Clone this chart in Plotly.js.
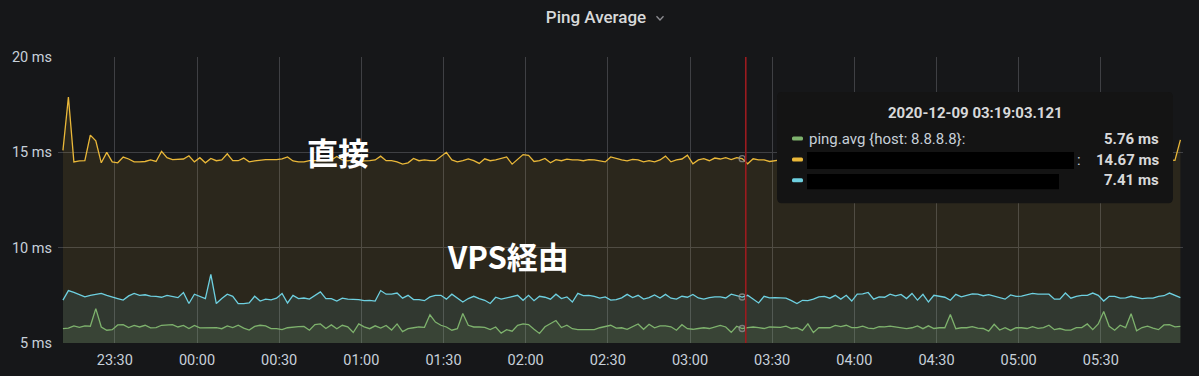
<!DOCTYPE html>
<html><head><meta charset="utf-8">
<script src="https://cdn.plot.ly/plotly-3.0.1.min.js"></script>
<style>html,body{margin:0;padding:0;background:#161719;}#chart{width:1199px;height:376px;}</style>
</head><body><div id="chart"></div>
<script>
// ---- data (ms), one sample every 2 minutes starting 2020-12-08 23:11:03.121 ----
const startTime = Date.UTC(2020, 11, 8, 23, 11, 3, 121);
const stepMinutes = 2;

const directValues = [ // yellow: 直接
15.1,17.9,14.5,14.55,14.56,15.9,15.6,14.45,15.0,14.5,14.45,
14.75,14.65,14.5,14.5,14.52,14.6,14.52,15.05,14.72,14.62,
14.65,14.65,14.82,14.5,14.72,14.45,14.68,14.56,14.6,14.92,
14.56,14.56,14.7,14.5,14.55,14.6,14.62,14.62,14.62,14.66,
14.76,14.55,14.5,14.5,14.56,14.56,14.58,14.56,14.6,14.78,
14.6,14.55,14.6,14.5,14.55,14.56,14.6,14.8,14.56,14.56,
14.5,14.38,14.45,14.68,14.56,14.6,14.56,14.56,14.76,15.0,
14.6,14.5,14.56,14.66,14.56,14.42,14.66,14.56,14.6,14.68,
14.76,14.38,14.62,14.88,14.84,14.52,14.56,14.68,14.45,14.62,
14.56,14.64,14.6,14.6,14.56,14.62,14.6,14.56,14.5,14.76,
14.66,14.6,14.55,14.63,14.6,14.5,14.56,14.5,14.6,14.8,
14.5,14.6,14.65,14.85,14.4,14.6,14.67,14.56,14.7,14.65,
14.72,14.62,14.72,14.67,14.4,14.66,14.6,14.6,14.52,14.55,
14.6,14.56,14.7,14.5,14.62,14.58,14.66,14.52,14.6,14.72,
14.55,14.6,14.64,14.5,14.58,14.7,14.62,14.55,14.6,14.68,
14.52,14.6,14.57,14.65,14.6,14.5,14.62,14.7,14.56,14.6,
14.64,14.55,14.6,14.72,14.58,14.5,14.6,14.66,14.56,14.62,
14.6,14.52,14.68,14.6,14.55,14.64,14.6,14.5,14.7,14.58,
14.6,14.56,14.66,14.6,14.52,14.62,14.58,14.7,14.6,14.55,
14.62,14.6,14.5,14.66,14.58,14.6,14.64,14.55,14.6,14.68,
14.56,14.6,14.58,15.65];

const vpsValues = [ // cyan: VPS経由
7.25,7.75,7.66,7.52,7.42,7.5,7.56,7.6,7.5,7.4,7.33,
7.25,7.47,7.6,7.5,7.53,7.46,7.45,7.4,7.5,7.45,
7.38,7.65,7.07,7.56,7.45,7.33,8.6,7.07,7.33,7.56,
7.45,7.07,7.07,7.1,7.45,7.2,7.3,7.26,7.35,7.6,
7.1,7.5,7.33,7.36,7.3,7.5,7.68,7.33,7.33,7.2,
7.35,7.3,7.28,7.28,7.22,7.24,7.2,7.75,7.56,7.56,
7.62,7.35,7.5,7.28,7.28,7.22,7.42,7.5,7.5,7.3,
7.56,7.33,7.15,7.33,7.45,7.33,7.24,7.07,7.4,7.3,
7.36,7.42,7.5,7.24,7.5,7.22,7.45,7.4,7.3,7.56,
7.33,7.42,7.15,7.6,7.48,7.5,7.45,7.35,7.42,7.25,
7.28,7.37,7.55,7.38,7.5,7.3,7.38,7.52,7.36,7.55,
7.35,7.3,7.45,7.4,7.55,7.36,7.3,7.38,7.42,7.42,
7.36,7.56,7.5,7.41,7.5,7.3,7.1,7.45,7.37,7.38,
7.38,7.35,7.22,7.07,7.24,7.22,7.3,7.42,7.45,7.35,
7.5,7.3,7.5,7.2,7.56,7.58,7.65,7.3,7.42,7.4,
7.56,7.47,7.55,7.33,7.6,7.25,7.55,7.15,7.5,7.43,
7.4,7.24,7.55,7.42,7.5,7.58,7.56,7.48,7.54,7.45,
7.38,7.3,7.52,7.45,7.46,7.55,7.6,7.56,7.56,7.56,
7.3,7.3,7.62,7.35,7.45,7.5,7.5,7.62,7.5,7.2,
7.45,7.45,7.35,7.37,7.45,7.38,7.33,7.35,7.35,7.45,
7.48,7.62,7.5,7.38];

const googleValues = [ // green: ping.avg {host: 8.8.8.8}
5.75,5.78,5.9,5.82,5.9,5.88,6.8,5.84,5.67,5.7,5.95,
5.96,5.81,5.92,5.84,5.93,5.79,5.81,5.93,5.94,5.96,
5.84,5.92,5.76,5.92,5.79,5.8,5.8,5.81,5.75,5.9,
5.81,5.93,5.78,5.68,5.87,5.93,5.9,5.75,5.75,5.7,
5.8,5.84,5.86,5.87,5.67,5.97,6.0,5.76,5.95,5.75,
5.93,5.85,5.55,6.0,5.85,5.75,5.9,5.78,5.92,5.68,
6.0,5.6,5.75,5.8,5.84,5.82,6.48,6.1,5.93,5.84,
5.67,5.75,6.55,5.93,5.84,5.84,5.82,5.7,5.84,5.52,
5.7,5.62,5.93,6.0,5.97,5.72,5.5,5.85,6.0,6.18,
5.81,5.93,5.75,5.7,5.7,5.7,5.7,5.8,5.88,5.93,
5.78,5.8,5.72,5.85,6.0,5.72,5.98,5.8,5.9,5.9,
5.85,5.67,5.96,5.75,5.72,5.76,5.8,5.76,5.85,5.92,
5.84,5.56,5.88,5.76,5.81,5.84,5.81,5.76,5.84,5.83,
5.82,5.88,5.76,5.8,5.66,6.0,5.55,5.81,5.79,5.8,
5.92,5.86,5.93,5.81,5.81,5.88,5.78,5.75,5.86,5.85,
5.88,5.84,5.8,5.75,5.8,5.9,5.75,5.9,5.76,5.8,
5.8,6.5,5.75,5.8,5.8,5.86,5.78,5.76,5.62,5.98,
5.68,5.8,5.66,5.8,5.8,5.76,5.86,5.77,5.81,5.93,
5.7,5.76,5.68,5.68,5.81,5.81,6.0,5.7,6.0,6.65,
5.88,5.67,5.93,5.81,6.54,5.64,5.81,5.88,5.78,5.7,
5.95,5.96,5.85,5.87];

const yTickVals = [5, 10, 15, 20];
const yTickText = ['5 ms', '10 ms', '15 ms', '20 ms'];
const xRange = ['2020-12-08 23:09:15', '2020-12-09 06:00:00'];
const hoverIndex = 124;
const crosshairTime = '2020-12-09 03:20:22';
const seriesLabels = ['ping.avg {host: 8.8.8.8}:', '', ''];
const labelDirect = '直接';
const labelVps = 'VPS経由';

// ---- helpers ----
function pad(n, w) { return String(n).padStart(w || 2, '0'); }
function fmt(ms) {
  const d = new Date(ms);
  return d.getUTCFullYear() + '-' + pad(d.getUTCMonth() + 1) + '-' + pad(d.getUTCDate()) + ' ' +
    pad(d.getUTCHours()) + ':' + pad(d.getUTCMinutes()) + ':' + pad(d.getUTCSeconds()) + '.' + pad(d.getUTCMilliseconds(), 3);
}
const times = directValues.map((_, i) => fmt(startTime + i * stepMinutes * 60000));

const colGreen = '#7eb26d', colYellow = '#eab839', colCyan = '#6ed0e0';
function fillOf(hex) {
  const r = parseInt(hex.slice(1, 3), 16), g = parseInt(hex.slice(3, 5), 16), b = parseInt(hex.slice(5, 7), 16);
  return 'rgba(' + r + ',' + g + ',' + b + ',0.1)';
}
function series(vals, color, name) {
  return { x: times, y: vals, type: 'scatter', mode: 'lines', name: name, fill: 'tozeroy',
    fillcolor: fillOf(color), line: { color: color, width: 1.3 }, hoverinfo: 'skip' };
}

// plot area in pixels (for placing decorations)
const L = 58, R = 1183, T = 57, B = 342.7;
const px = x => (x - L) / (R - L);
const py = y => (B - y) / (B - T);
function roundRect(x0, y0, x1, y1, r) {
  return 'M' + px(x0 + r) + ',' + py(y0) + ' L' + px(x1 - r) + ',' + py(y0) +
    ' Q' + px(x1) + ',' + py(y0) + ' ' + px(x1) + ',' + py(y0 + r) +
    ' L' + px(x1) + ',' + py(y1 - r) +
    ' Q' + px(x1) + ',' + py(y1) + ' ' + px(x1 - r) + ',' + py(y1) +
    ' L' + px(x0 + r) + ',' + py(y1) +
    ' Q' + px(x0) + ',' + py(y1) + ' ' + px(x0) + ',' + py(y1 - r) +
    ' L' + px(x0) + ',' + py(y0 + r) +
    ' Q' + px(x0) + ',' + py(y0) + ' ' + px(x0 + r) + ',' + py(y0) + ' Z';
}
function rect(x0, y0, x1, y1, color, layer) {
  return { type: 'rect', xref: 'paper', yref: 'paper', x0: px(x0), x1: px(x1), y0: py(y1), y1: py(y0),
    fillcolor: color, line: { width: 0 }, layer: layer || 'above' };
}

const traces = [
  series(directValues, colYellow, '直接'),
  series(vpsValues, colCyan, 'VPS経由'),
  series(googleValues, colGreen, 'ping.avg {host: 8.8.8.8}'),
  { x: [times[hoverIndex], times[hoverIndex], times[hoverIndex]],
    y: [directValues[hoverIndex], vpsValues[hoverIndex], googleValues[hoverIndex]],
    type: 'scatter', mode: 'markers', hoverinfo: 'skip',
    marker: { symbol: 'circle-open', size: 6, color: 'rgba(150,150,150,0.75)', line: { width: 1.4 } } }
];

const tipFont = { family: 'Roboto, sans-serif', size: 15, color: '#d8d9da' };
const rowsY = [138.5, 159.5, 180];
const rowVals = [googleValues[hoverIndex], directValues[hoverIndex], vpsValues[hoverIndex]];
const rowCols = [colGreen, colYellow, colCyan];

const shapes = [
  { type: 'line', xref: 'x', yref: 'paper', x0: crosshairTime, x1: crosshairTime, y0: 0, y1: 1,
    line: { color: '#9b1b1f', width: 1.6 }, layer: 'above' },
  { type: 'path', xref: 'paper', yref: 'paper', path: roundRect(777, 92, 1173, 203, 5),
    fillcolor: '#141414', line: { width: 0 }, layer: 'above' },
  rect(807, 152, 1074, 169, '#000000'),
  rect(807, 174, 1059, 189, '#000000'),
  { type: 'path', xref: 'paper', yref: 'paper',
    path: 'M' + px(656.5) + ',' + py(16.3) + ' L' + px(660) + ',' + py(20) + ' L' + px(663.5) + ',' + py(16.3),
    line: { color: '#8e8e93', width: 1.3 }, layer: 'above' }
];
rowCols.forEach((c, i) => {
  shapes.push({ type: 'path', xref: 'paper', yref: 'paper', path: roundRect(792, rowsY[i] - 2, 803, rowsY[i] + 2, 1.5),
    fillcolor: c, line: { width: 0 }, layer: 'above' });
});

const annotations = [
  { xref: 'paper', yref: 'paper', x: px(975), y: py(113), xanchor: 'center', yanchor: 'middle', showarrow: false,
    text: times[hoverIndex], font: Object.assign({}, tipFont, { weight: 700 }) },
  { xref: 'paper', yref: 'paper', x: px(807), y: py(rowsY[0]), xanchor: 'left', yanchor: 'middle', showarrow: false,
    text: seriesLabels[0], font: Object.assign({}, tipFont, { color: '#c7d0d9' }) },
  { xref: 'paper', yref: 'paper', x: px(1075), y: py(rowsY[1]), xanchor: 'left', yanchor: 'middle', showarrow: false,
    text: ':', font: Object.assign({}, tipFont, { color: '#c7d0d9' }) },
  { xref: 'paper', yref: 'paper', x: px(338), y: py(151.5), xanchor: 'center', yanchor: 'middle', showarrow: false,
    text: labelDirect, font: { family: "'Noto Sans CJK JP', sans-serif", size: 31, color: '#ffffff', weight: 700 } },
  { xref: 'paper', yref: 'paper', x: px(507.5), y: py(255), xanchor: 'center', yanchor: 'middle', showarrow: false,
    text: labelVps, font: { family: "'Noto Sans CJK JP', sans-serif", size: 31, color: '#ffffff', weight: 700 } }
];
rowVals.forEach((v, i) => {
  annotations.push({ xref: 'paper', yref: 'paper', x: px(1161), y: py(rowsY[i]), xanchor: 'right', yanchor: 'middle',
    showarrow: false, text: v.toFixed(2) + ' ms', font: Object.assign({}, tipFont, { weight: 700 }) });
});

const layout = {
  width: 1199, height: 376,
  paper_bgcolor: '#161719', plot_bgcolor: '#161719',
  margin: { l: L, r: 1199 - R, t: T, b: 376 - B, pad: 0 },
  showlegend: false,
  hovermode: false,
  title: { text: 'Ping Average', font: { family: 'Roboto, sans-serif', size: 17, color: '#d8d9da', weight: 500 },
    x: 596 / 1199, xanchor: 'center', xref: 'container', y: 1 - 17 / 376, yanchor: 'middle', yref: 'container' },
  xaxis: { type: 'date', range: xRange, tick0: '2020-12-08 23:30:00', dtick: 1800000, tickformat: '%H:%M',
    showgrid: true, gridcolor: '#3f4044', gridwidth: 1, zeroline: false, showline: false, ticks: '',
    tickfont: { family: 'Roboto, sans-serif', size: 14.5, color: '#c7d0d9' }, ticklabelstandoff: 6, fixedrange: true },
  yaxis: { range: [5, 20], tickvals: yTickVals, ticktext: yTickText,
    showgrid: true, gridcolor: '#3f4044', gridwidth: 1, zeroline: false, showline: false, ticks: '',
    tickfont: { family: 'Roboto, sans-serif', size: 14.5, color: '#c7d0d9' }, ticklabelstandoff: 5, fixedrange: true },
  shapes: shapes,
  annotations: annotations
};

Plotly.newPlot('chart', traces, layout, { displayModeBar: false, staticPlot: true });
</script></body></html>
